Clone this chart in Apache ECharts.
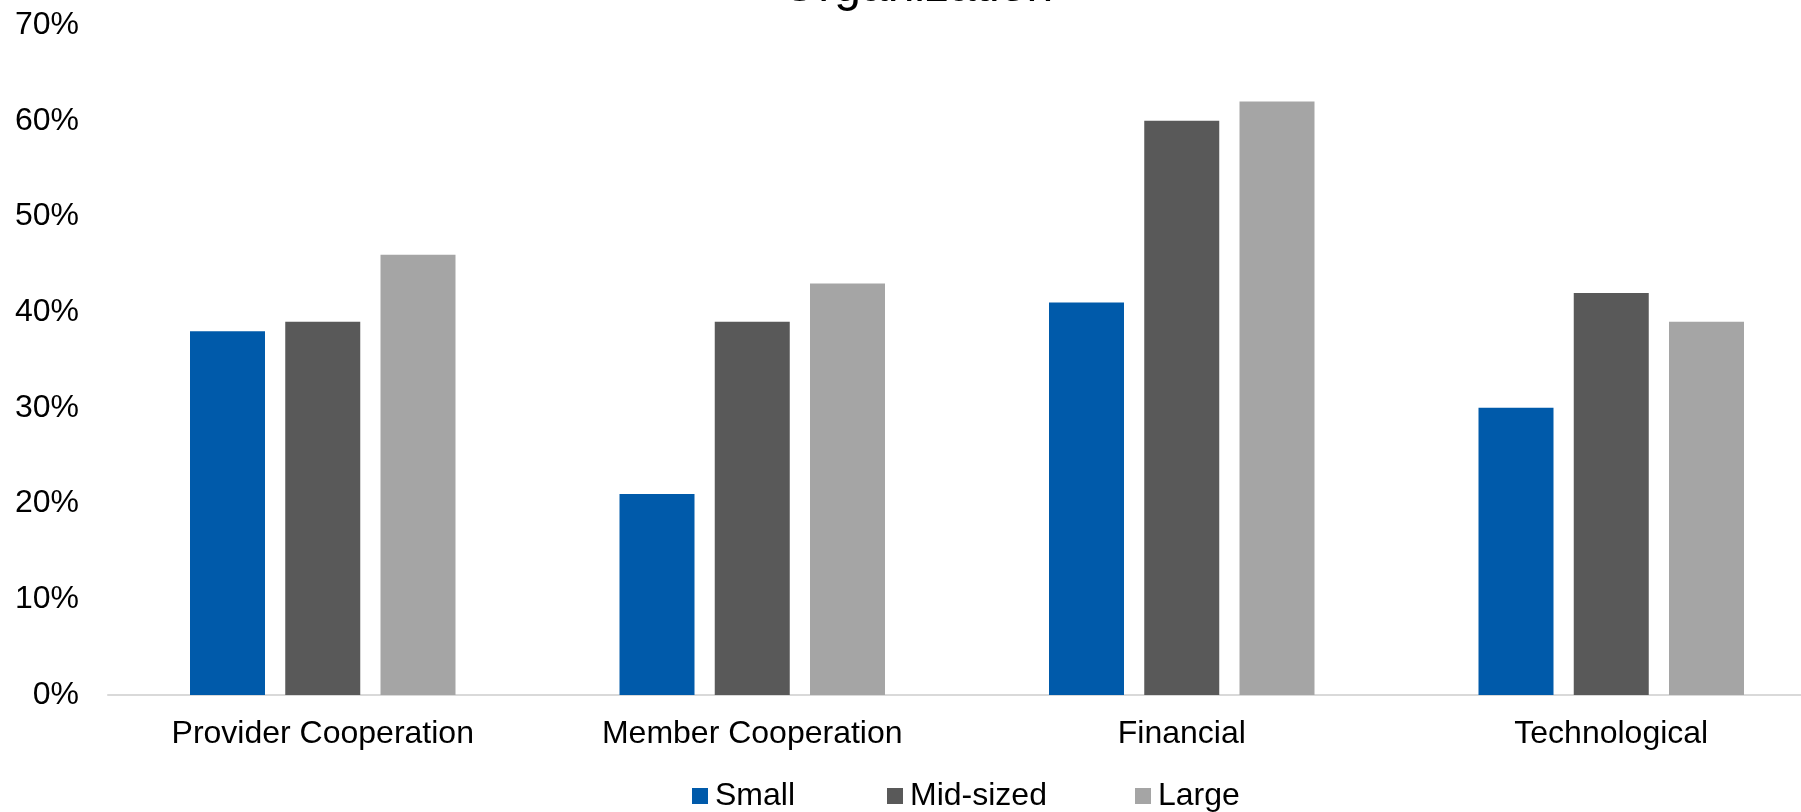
<!DOCTYPE html>
<html>
<head>
<meta charset="utf-8">
<script src="https://cdn.jsdelivr.net/npm/echarts@6/dist/echarts.min.js"></script>
<style>
html,body{margin:0;padding:0;background:#fff;}
#chart{width:1801px;height:812px;}
</style>
</head>
<body>
<div id="chart"></div>
<script>
const titleText = 'Organization';
const categories = ['Provider Cooperation', 'Member Cooperation', 'Financial', 'Technological'];
const seriesNames = ['Small', 'Mid-sized', 'Large'];
const smallValues = [38, 21, 41, 30];
const midValues = [39, 39, 60, 42];
const largeValues = [46, 43, 62, 39];
const colors = ['#005AAA', '#595959', '#A5A5A5'];

const FONT = "'Liberation Sans', Arial, Helvetica, sans-serif";
const chart = echarts.init(document.getElementById('chart'));
const legendLefts = [692, 887, 1135];
const seriesData = [smallValues, midValues, largeValues];

chart.setOption({
  animation: false,
  backgroundColor: '#ffffff',
  title: {
    text: titleText,
    left: 917,
    top: -36,
    padding: 0,
    textAlign: 'center',
    textStyle: {fontFamily: FONT, fontSize: 48, fontWeight: 'normal', color: '#000'}
  },
  legend: seriesNames.map((n, i) => ({
    data: [n],
    left: legendLefts[i],
    top: 780,
    padding: 0,
    itemWidth: 16,
    itemHeight: 16,
    itemGap: 0,
    icon: 'rect',
    textStyle: {fontFamily: FONT, fontSize: 32, color: '#000', padding: [0, 0, 0, 2]}
  })),
  grid: {left: 108, right: -25, top: 25, bottom: 117, containLabel: false, outerBoundsMode: 'none'},
  xAxis: {
    type: 'category',
    data: categories,
    axisLine: {show: true, lineStyle: {color: '#D9D9D9', width: 2}},
    axisTick: {show: false},
    axisLabel: {fontFamily: FONT, fontSize: 32, color: '#000', margin: 23}
  },
  yAxis: {
    type: 'value',
    min: 0,
    max: 70,
    interval: 10,
    axisLine: {show: false},
    axisTick: {show: false},
    splitLine: {show: false},
    axisLabel: {fontFamily: FONT, fontSize: 32, color: '#000', margin: 29, formatter: '{value}%'}
  },
  series: seriesNames.map((n, i) => ({
    name: n,
    type: 'bar',
    data: seriesData[i],
    barWidth: 75,
    barGap: '27%',
    itemStyle: {color: colors[i]}
  }))
});
</script>
</body>
</html>
